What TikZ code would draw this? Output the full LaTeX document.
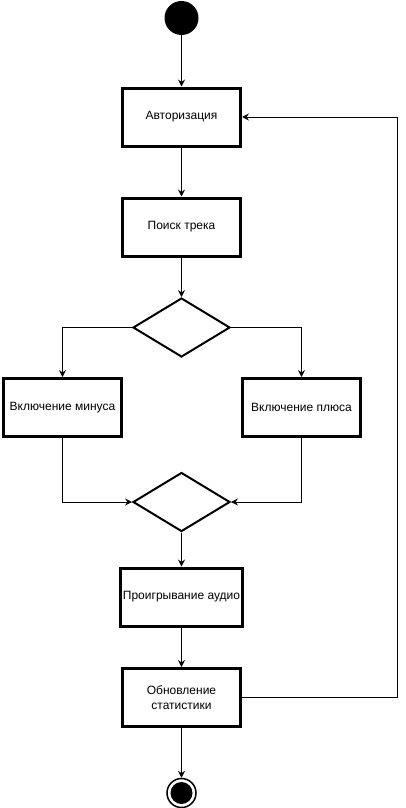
\documentclass[tikz,border=0pt]{standalone}
\usepackage{fontspec}
\setmainfont{Liberation Sans}
\usetikzlibrary{shapes.geometric,arrows.meta}
\begin{document}
\begin{tikzpicture}[x=1pt,y=-1pt,
  actbox/.style={draw,line width=3pt,minimum width=118pt,minimum height=58pt,
    inner sep=2pt,align=center,font=\fontsize{12}{15}\selectfont},
  choice/.style={draw,diamond,line width=2pt,minimum width=97pt,minimum height=59pt,
    inner sep=0pt},
  flow/.style={line width=1pt,-{Stealth[length=7pt,width=7pt,inset=2.5pt]}},
  plain/.style={line width=1pt}]
\useasboundingbox (0,0) rectangle (406,808);

% initial and final states
\node[circle,fill=black,minimum size=34pt,inner sep=0pt] (start) at (181.5,18) {};
\node[circle,draw,line width=1.5pt,minimum size=29pt,inner sep=0pt] (stop) at (181.5,793) {};
\node[circle,fill=black,minimum size=22pt,inner sep=0pt] (stopdot) at (181.5,793) {};

% activities
\node[actbox] (auth)   at (181.5,117)   {Авторизация};
\node[actbox] (search) at (181.5,227)   {Поиск трека};
\node[choice] (split)  at (181.5,327.5) {};
\node[actbox] (minus)  at (62.5,407.5)  {Включение минуса};
\node[actbox] (plus)   at (301.5,407.5) {Включение плюса};
\node[choice] (merge)  at (181.5,502)   {};
\node[actbox] (play)   at (181.5,597)   {Проигрывание аудио};
\node[actbox] (stats)  at (181.5,697.5) {Обновление\\статистики};

\coordinate (loop) at (397,0);

% transitions
\draw[flow] (start) -- (auth);
\draw[flow] (auth) -- (search);
\draw[flow] (search) -- (split);
\draw[flow] (split.west) -| (minus.north);
\draw[flow] (split.east) -| (plus.north);
\draw[flow] (minus.south) |- (merge.west);
\draw[flow] (plus.south) |- (merge.east);
\draw[flow] (merge) -- (play);
\draw[flow] (play) -- (stats);
\draw[flow] (stats) -- (stop);
\draw[flow] (stats.east) -- (stats.east -| loop) -- (loop |- auth.east) -- (auth.east);
\end{tikzpicture}
\end{document}
